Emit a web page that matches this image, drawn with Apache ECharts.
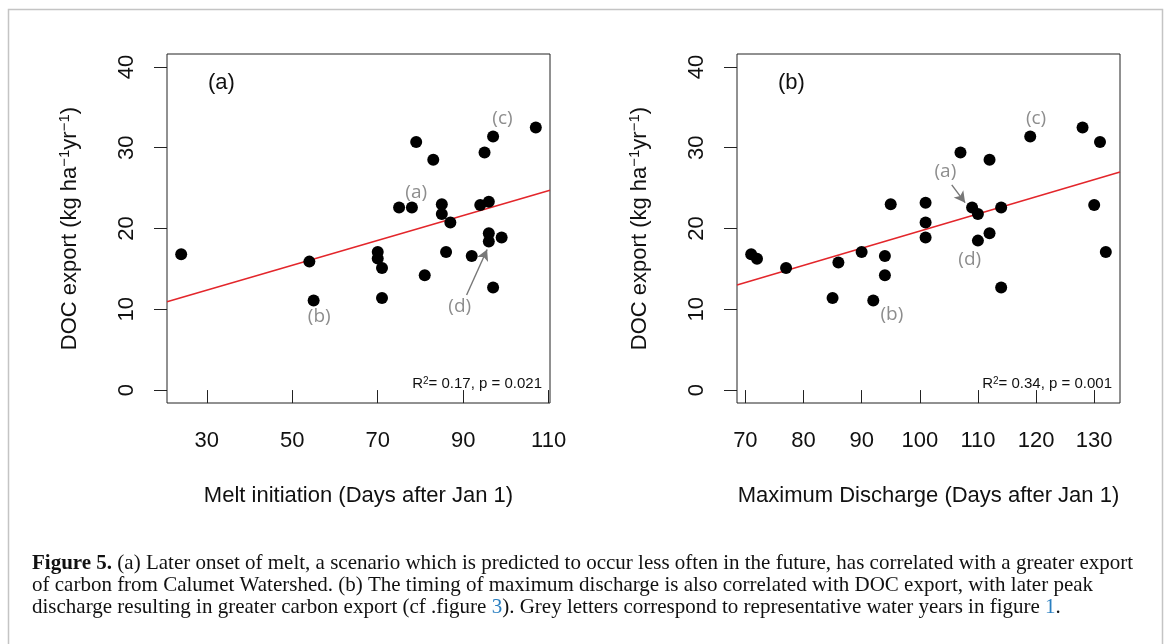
<!DOCTYPE html>
<html>
<head>
<meta charset="utf-8">
<script src="https://cdn.jsdelivr.net/npm/echarts@6/dist/echarts.min.js"></script>
<style>
html,body{margin:0;padding:0;background:#fff;}
#chart{width:1167px;height:644px;}
</style>
</head>
<body>
<div id="chart"></div>
<script>
// ---- data ----
const meltDay   = [24,54,55,70,70,71,71,75,78,79,81,83,85,85,86,87,92,94,95,96,96,96,97,97,99,107];
const docMelt   = [16.8,15.9,11.1,17.1,16.3,15.1,11.4,22.6,22.6,30.7,14.2,28.5,23.0,21.8,17.1,20.75,16.6,22.9,29.4,23.3,19.4,18.4,31.4,12.7,18.9,32.5];
const peakDay   = [71,72,77,85,86,90,92,94,94,95,101,101,101,107,109,110,110,112,112,114,114,119,128,130,131,132];
const docPeak   = [16.8,16.25,15.1,11.4,15.8,17.1,11.1,16.6,14.2,23.0,23.2,20.75,18.9,29.4,22.6,21.8,18.5,28.5,19.4,22.6,12.7,31.4,32.5,22.9,30.7,17.1];

const fitMelt = [7.74, 0.154];    // intercept, slope
const fitPeak = [-1.58, 0.2126];

const xRangeMelt = [20.68, 110.32];
const xRangePeak = [68.56, 134.44];
const yRange = [-1.6, 41.6];

const xTicksMelt = [30,50,70,90,110];
const xTicksPeak = [70,80,90,100,110,120,130];
const yTicks = [0,10,20,30,40];

const yearLabels = ['(a)','(b)','(c)','(d)'];
const labelMeltX = [79.0, 56.3, 99.2, 89.2];
const labelMeltY = [24.5, 9.1, 33.6, 10.3];
const labelPeakX = [104.4, 95.2, 120.0, 108.6];
const labelPeakY = [27.0, 9.4, 33.6, 16.1];
const arrowMelt = [[90.8, 11.76], [95.6, 17.4]];
const arrowPeak = [[105.5, 25.4], [107.8, 23.2]];

const statsMelt = 'R{s|2}= 0.17, p = 0.021';
const statsPeak = 'R{s|2}= 0.34, p = 0.001';

// ---- chart ----
const chart = echarts.init(document.getElementById('chart'), null, {renderer:'canvas'});
const SANS = 'Liberation Sans, Arial, sans-serif';
const SERIF = 'Liberation Serif, Times New Roman, serif';
const txt = '#111';

function zip(a,b){ return a.map((v,i)=>[v,b[i]]); }
function fitLine(range, f){ return range.map(x=>[x, f[0]+f[1]*x]); }
function labels(xs,ys){ return yearLabels.map((n,i)=>({name:n, value:[xs[i], ys[i]]})); }

function xAxis(idx, range, ticks, name){
  return {
    gridIndex: idx, type:'value', min: range[0], max: range[1],
    axisLine:{show:false}, splitLine:{show:false},
    axisTick:{show:true, length:13, customValues: ticks, lineStyle:{color:'#222', width:1}},
    axisLabel:{customValues: ticks, fontSize:22, color:txt, fontFamily:SANS, margin:27},
    name: name, nameLocation:'middle', nameGap:82,
    nameTextStyle:{fontSize:22, color:txt, fontFamily:SANS}
  };
}
function yAxis(idx){
  return {
    gridIndex: idx, type:'value', min: yRange[0], max: yRange[1],
    axisLine:{show:false}, splitLine:{show:false},
    axisTick:{show:true, length:13, customValues: yTicks, lineStyle:{color:'#222', width:1}},
    axisLabel:{customValues: yTicks, fontSize:22, color:txt, fontFamily:SANS, margin:29, rotate:90},
    name: 'DOC export (kg ha{s|−1}yr{s|−1})', nameLocation:'middle', nameGap:84, nameRotate:90,
    nameTextStyle:{fontSize:22, color:txt, fontFamily:SANS, lineHeight:26,
      rich:{s:{fontSize:15, fontFamily:SANS, color:txt, verticalAlign:'top', lineHeight:26}}}
  };
}
function pointSeries(idx, data){
  return {type:'scatter', xAxisIndex:idx, yAxisIndex:idx, data:data, symbolSize:12,
    itemStyle:{color:'#000', opacity:1}, silent:true, z:3};
}
function fitSeries(idx, data){
  return {type:'line', xAxisIndex:idx, yAxisIndex:idx, data:data, showSymbol:false, symbol:'none',
    lineStyle:{color:'#e3262b', width:1.5}, silent:true, z:2};
}
function labelSeries(idx, data, arrow){
  return {type:'scatter', xAxisIndex:idx, yAxisIndex:idx, data:data, symbolSize:1,
    itemStyle:{color:'rgba(0,0,0,0)'}, silent:true, z:4,
    label:{show:true, position:'inside', formatter:'{b}', fontSize:19, color:'#707070', fontFamily:'Open Sans, sans-serif'},
    markLine:{silent:true, symbol:['none','arrow'], symbolSize:[9,11],
      lineStyle:{color:'#777', width:1.4, type:'solid'}, label:{show:false},
      data:[[{coord:arrow[0]},{coord:arrow[1]}]]}
  };
}

const grids = [
  {left:167, top:54, width:383, height:349},
  {left:737, top:54, width:383, height:349}
].map(g=>Object.assign(g,{show:true, borderColor:'#222', borderWidth:1, backgroundColor:'rgba(0,0,0,0)'}));

function captionLine(y, text){
  return {type:'text', left:32, top:y, silent:true,
    style:{text:text, fontSize:21, fontFamily:SERIF, fill:'#111',
      rich:{b:{fontWeight:'bold', fontSize:21, fontFamily:SERIF, fill:'#111'},
            l:{fontSize:21, fontFamily:SERIF, fill:'#2a7fc0'}}}};
}

const option = {
  animation:false,
  backgroundColor:'#fff',
  grid: grids,
  xAxis:[xAxis(0, xRangeMelt, xTicksMelt, 'Melt initiation (Days after Jan 1)'),
         xAxis(1, xRangePeak, xTicksPeak, 'Maximum Discharge (Days after Jan 1)')],
  yAxis:[yAxis(0), yAxis(1)],
  series:[
    fitSeries(0, fitLine(xRangeMelt, fitMelt)),
    pointSeries(0, zip(meltDay, docMelt)),
    labelSeries(0, labels(labelMeltX, labelMeltY), arrowMelt),
    fitSeries(1, fitLine(xRangePeak, fitPeak)),
    pointSeries(1, zip(peakDay, docPeak)),
    labelSeries(1, labels(labelPeakX, labelPeakY), arrowPeak)
  ],
  graphic:[
    {type:'rect', silent:true, shape:{x:8.5, y:9.5, width:1154, height:700},
      style:{fill:'none', stroke:'#c4c4c4', lineWidth:1.5}},
    {type:'text', left:208, top:72, silent:true, style:{text:'(a)', fontSize:22, fontFamily:SANS, fill:txt}},
    {type:'text', left:778, top:72, silent:true, style:{text:'(b)', fontSize:22, fontFamily:SANS, fill:txt}},
    {type:'text', right:1167-542, top:376, silent:true,
      style:{text:statsMelt, fontSize:15, fontFamily:SANS, fill:txt,
        rich:{s:{fontSize:10, fontFamily:SANS, fill:txt, verticalAlign:'top'}}}},
    {type:'text', right:1167-1112, top:376, silent:true,
      style:{text:statsPeak, fontSize:15, fontFamily:SANS, fill:txt,
        rich:{s:{fontSize:10, fontFamily:SANS, fill:txt, verticalAlign:'top'}}}},
    captionLine(553, '{b|Figure 5.} (a) Later onset of melt, a scenario which is predicted to occur less often in the future, has correlated with a greater export'),
    captionLine(575, 'of carbon from Calumet Watershed. (b) The timing of maximum discharge is also correlated with DOC export, with later peak'),
    captionLine(597, 'discharge resulting in greater carbon export (cf .figure {l|3}). Grey letters correspond to representative water years in figure {l|1}.')
  ]
};
chart.setOption(option);
</script>
</body>
</html>
